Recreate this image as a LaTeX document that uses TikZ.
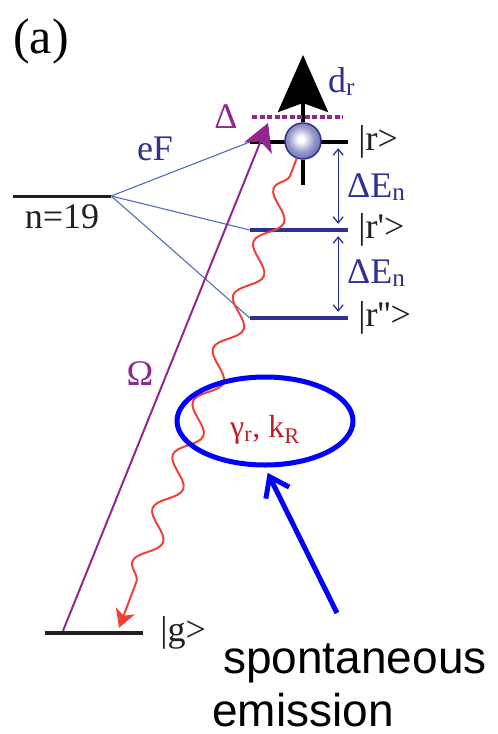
\documentclass[tikz,border=0pt]{standalone}
\usepackage{fontspec}
\setmainfont{Liberation Serif}
\setsansfont{Liberation Sans}
\usepackage{tikz}
\usetikzlibrary{arrows.meta, positioning, shapes.geometric, decorations.pathmorphing}
\definecolor{ketblue}{RGB}{46,49,146}
\definecolor{linkblue}{RGB}{80,110,185}
\definecolor{pumpviolet}{RGB}{146,39,143}
\definecolor{wavered}{RGB}{239,65,54}
\definecolor{ratered}{RGB}{190,30,45}
\definecolor{ketgray}{RGB}{35,31,32}
\pgfdeclareradialshading{atomglow}{\pgfpoint{-3bp}{3bp}}{color(0bp)=(white); color(4bp)=(white); color(18bp)=(ketblue!50); color(35bp)=(ketblue!85); color(50bp)=(ketblue); color(100bp)=(ketblue)}
\tikzstyle{levelbar} = [rectangle, inner sep=0pt, minimum width=98pt, minimum height=4pt]
\tikzstyle{ket}      = [inner sep=0pt, text=ketgray, font=\fontsize{36}{40}\selectfont]
\tikzstyle{link}     = [linkblue, line width=1.1pt]
\tikzstyle{split}    = [ketblue, line width=1.3pt, {Straight Barb[length=6pt,width=10pt]}-{Straight Barb[length=6pt,width=10pt]}, shorten <=4pt, shorten >=4pt]
\tikzstyle{pump}     = [pumpviolet, line width=2pt, -{Stealth[length=27pt,width=30pt,inset=7pt]}]
\tikzstyle{dipole}   = [black, line width=4pt, -{Stealth[length=57pt,width=50pt,inset=9pt]}]
\tikzstyle{stem}     = [black, line width=4pt]
\tikzstyle{detune}   = [pumpviolet, line width=3.5pt, dash pattern=on 5pt off 2.5pt]
\tikzstyle{wave}     = [wavered, line width=2pt, decorate, decoration={snake, segment length=57pt, amplitude=11pt, mirror, pre length=18pt, post length=30pt}, -{Stealth[length=18pt,width=20pt,inset=5pt]}]
\tikzstyle{pointer}  = [blue, line width=5pt, -{Straight Barb[length=18pt,width=26pt]}]
\tikzstyle{atom}     = [circle, minimum size=36pt, inner sep=0pt, draw=ketblue, line width=1.5pt, shading=atomglow]
\tikzstyle{rate}     = [inner sep=0pt, text=ratered, font=\fontsize{32}{36}\selectfont]

\begin{document}
\begin{tikzpicture}[x=1pt, y=-1pt]
\useasboundingbox (0,0) rectangle (498,734);

\node[inner sep=0pt, font=\fontsize{50}{56}\selectfont, anchor=base west] (panel) at (13,53) {(a)};

% levels
\node[levelbar, fill=ketgray, minimum height=3pt] (n19) at (62,196) {};
\node[levelbar, fill=black] (r)  at (299,142) {};
\node[levelbar, fill=ketblue] (r1) at (299,230) {};
\node[levelbar, fill=ketblue] (r2) at (299,318) {};
\node[levelbar, fill=ketgray] (g)  at (94,633) {};

\node[ket, below=7pt of n19] (n19lab) {n=19};
\node[ket, right=10pt of r]  (rlab)  {|r>};
\node[ket, right=10pt of r1] (r1lab) {|r\textquotesingle>};
\node[ket, right=10pt of r2] (r2lab) {|r\textquotesingle\textquotesingle>};
\node[ket, right=17pt of g]  (glab)  {|g>};

% Stark mixing
\node[ket, text=ketblue, anchor=base] (eF) at (155,160) {eF};
\draw[link] (n19.east) -- (r.west);
\draw[link] (n19.east) -- (r1.west);
\draw[link] (n19.east) -- (r2.west);

\draw[split] ([xshift=-10pt]r.south east) -- ([xshift=-10pt]r1.north east);
\draw[split] ([xshift=-10pt]r1.south east) -- ([xshift=-10pt]r2.north east);
\node[ket, text=ketblue, anchor=base west] (de1) at (347,197) {ΔE\textsubscript{n}};
\node[ket, text=ketblue, anchor=base west] (de2) at (347,283) {ΔE\textsubscript{n}};

% atom and dipole
\coordinate (dtip) at (303,55);
\coordinate (stub) at (303,185);
\node[atom] (atom) at (303,141) {};
\draw[dipole] (atom.north) -- (dtip);
\draw[stem] (atom.south) -- (stub);
\node[ket, text=ketblue, anchor=base west] (dr) at (328,92) {d\textsubscript{r}};

\coordinate (dl) at (252,117);
\coordinate (drr) at (343,117);
\draw[detune] (dl) -- (drr);
\node[ket, text=pumpviolet, anchor=base] (delta) at (226,128) {Δ};

% excitation
\coordinate (omtip) at (268,123);
\draw[pump] ([xshift=-31pt]g.north) -- (omtip);
\node[ket, text=pumpviolet, anchor=base] (omega) at (140,385) {Ω};

% decay
\draw[wave] (atom.250) -- ([xshift=25pt, yshift=3pt]g.north);

\node[ellipse, draw=blue, line width=5pt, minimum width=176pt, minimum height=88pt, inner sep=0pt] (emis) at (265,421) {};
\node[rate] (ratelab) at ([yshift=-9pt]emis.center) {γ\textsubscript{r}, k\textsubscript{R}};

\node[inner sep=0pt, anchor=base west, align=left, font=\sffamily\fontsize{46}{53}\selectfont] (note) at (212,726) {\hspace*{11pt}spontaneous\\emission};
\coordinate (tail) at (337,613);
\draw[pointer, shorten >=6pt] (tail) -- (emis.south);

\end{tikzpicture}
\end{document}
